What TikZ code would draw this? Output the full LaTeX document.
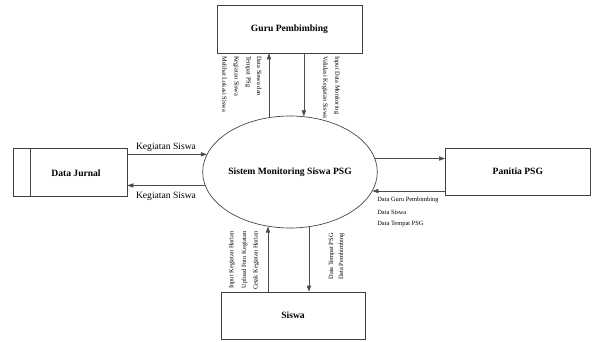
\documentclass[tikz,border=0pt]{standalone}
\usepackage{fontspec}
\setmainfont{Liberation Serif}
\usetikzlibrary{shapes.geometric,arrows.meta}
\begin{document}
\begin{tikzpicture}[x=0.75pt,y=-0.75pt,
  line width=0.5pt,
  ent/.style={draw=black!75,rectangle,inner sep=0pt,font=\fontsize{7.2}{8}\selectfont\bfseries},
  flow/.style={draw=black!70,-{Triangle[length=4.5pt,width=3.2pt]}},
  lbl/.style={font=\fontsize{7.2}{8}\selectfont,inner sep=0pt},
  tiny/.style={font=\fontsize{4.8}{5.5}\selectfont,inner sep=0pt}]
\useasboundingbox (0,0) rectangle (595,342);
% entities
\node[ent,minimum width=145*0.75pt,minimum height=48*0.75pt] (guru) at (289.5,29) {Guru Pembimbing};
\node[ent,minimum width=114*0.75pt,minimum height=48*0.75pt] (jurnal) at (70,172) {};
\node[font=\fontsize{7.2}{8}\selectfont\bfseries] (jurnaltxt) at (76,173) {Data Jurnal};
\draw[draw=black!75] ([xshift=18*0.75pt]jurnal.north west) -- ([xshift=18*0.75pt]jurnal.south west);
\node[ent,minimum width=145*0.75pt,minimum height=47*0.75pt,anchor=west] (panitia) at (445,171.5) {Panitia PSG};
\node[ent,minimum width=144*0.75pt,minimum height=47*0.75pt] (siswa) at (293,315.5) {Siswa};
\node[draw=black!75,ellipse,minimum width=166*0.75pt,minimum height=112*0.75pt,inner sep=0pt,
  font=\fontsize{7.2}{8}\selectfont\bfseries] (ell) at (290,172) {Sistem Monitoring Siswa PSG};
% flows top
\draw[flow] (ell.111.2) -- (ell.111.2 |- guru.south);
\draw[flow] (ell.76.8 |- guru.south) -- (ell.76.8);
% flows bottom
\draw[flow] (ell.248.8 |- siswa.north) -- (ell.248.8);
\draw[flow] (ell.289.2) -- (ell.289.2 |- siswa.north);
% flows left
\draw[flow] (jurnal.east |- ell.168.6) -- (ell.168.6);
\draw[flow] (ell.189.9) -- (ell.189.9 -| jurnal.east);
% flows right
\draw[flow] (ell.9.9) -- (ell.9.9 -| panitia.west);
\draw[flow] (panitia.west |- ell.347.9) -- (ell.347.9);
% labels left
\node[lbl] (k1) at (166,147) {Kegiatan Siswa};
\node[lbl] (k2) at (166,196) {Kegiatan Siswa};
% labels right
\node[tiny,anchor=west] (r1) at (377,200) {Data Guru Pembimbing};
\node[tiny,anchor=west] (r2) at (377,212) {Data Siswa};
\node[tiny,anchor=west] (r3) at (377,224) {Data Tempat PSG};
% labels top
\node[tiny,rotate=-90,anchor=west] (t1) at (259.3,56) {Data Siswa dan};
\node[tiny,rotate=-90,anchor=west] (t2) at (248,56) {Tempat PSg};
\node[tiny,rotate=-90,anchor=west] (t3) at (236,56) {Kegiatan Siswa};
\node[tiny,rotate=-90,anchor=west] (t4) at (224.5,56) {Melihat Lokasi Siswa};
\node[tiny,rotate=-90,anchor=west] (t5) at (336.7,56) {Input Data Monitoring};
\node[tiny,rotate=-90,anchor=west] (t6) at (325,56) {Validasi Kegiatan Siswa};
% labels bottom
\node[tiny,rotate=90,anchor=east] (b1) at (232,231) {Input Kegiatan Harian};
\node[tiny,rotate=90,anchor=east] (b2) at (244.5,231) {Upload Foto Kegiatan};
\node[tiny,rotate=90,anchor=east] (b3) at (256,231) {Cetak Kegiatan Harian};
\node[tiny,rotate=90,anchor=east] (b4) at (331.7,233) {Data Tempat PSG};
\node[tiny,rotate=90,anchor=east] (b5) at (341.7,233) {Data Pembimbing};
\end{tikzpicture}
\end{document}
